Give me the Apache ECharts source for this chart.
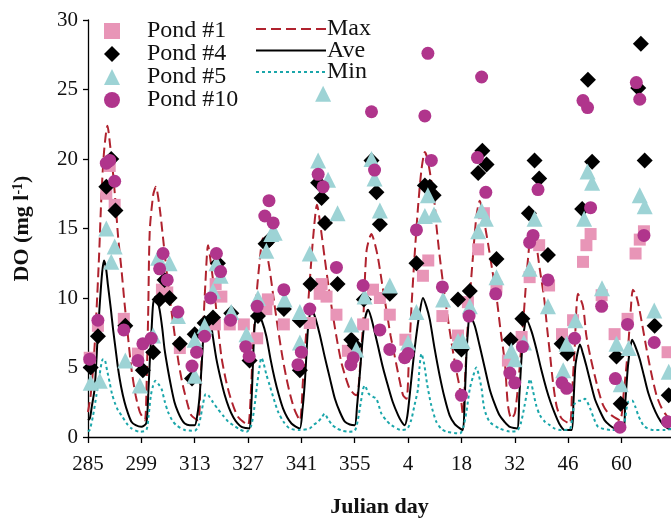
<!DOCTYPE html>
<html>
<head>
<meta charset="utf-8">
<script src="https://cdn.jsdelivr.net/npm/echarts@6/dist/echarts.min.js"></script>
<style>
  html, body { margin: 0; padding: 0; background: #fff; }
  #chart { width: 671px; height: 523px; }
</style>
</head>
<body>
<div id="chart"></div>
<script>
// x values are days counted from the first sampled day (Julian day 285)
const firstDay = 285;
const dayTicks = [285, 299, 313, 327, 341, 355, 4, 18, 32, 46, 60];
const yTicks = [0, 5, 10, 15, 20, 25, 30];

// Measured DO in each pond: [day offset, mg/l]
const pond1 = [[0.45,5.7],[2.6,8.0],[4.8,17.5],[5.7,19.5],[7.0,16.7],[9.4,8.5],[13.1,6.0],[19.4,10.6],[20.8,10.4],[24.1,6.4],[33.3,8.1],[33.5,11.0],[35.0,10.1],[37.2,8.1],[40.9,8.1],[44.4,7.1],[46.8,9.2],[47.2,9.9],[51.4,8.1],[58.2,8.2],[60.8,10.3],[61.3,11.0],[62.6,10.1],[65.2,8.8],[68.2,6.2],[72.2,8.1],[74.8,10.6],[76.6,10.0],[79.2,8.8],[83.3,7.0],[87.9,11.6],[89.3,12.7],[93.0,8.7],[97.1,7.3],[99.7,9.7],[102.4,13.5],[103.9,16.1],[107.2,10.8],[110.2,5.5],[113.8,7.2],[115.9,11.5],[118.4,13.8],[121.0,10.9],[124.4,7.4],[127.3,8.4],[129.9,12.6],[130.8,13.8],[131.9,14.6],[134.8,10.2],[138.2,7.4],[141.6,8.5],[143.7,13.2],[144.8,14.2],[145.9,14.8],[152.1,6.1]];
const pond4 = [[0.7,5.0],[2.6,7.25],[4.8,18.0],[6.1,20.0],[7.2,16.3],[9.8,8.0],[14.4,4.8],[17.1,6.1],[18.8,9.9],[20.1,11.3],[21.4,10.0],[24.1,6.7],[27.3,4.2],[28.0,7.4],[30.6,8.2],[32.8,8.6],[34.1,12.5],[37.6,8.9],[42.4,5.5],[44.6,8.7],[46.6,13.9],[47.7,14.2],[51.4,9.2],[55.6,8.4],[55.6,4.8],[58.4,11.0],[60.4,18.3],[61.3,17.2],[62.2,15.4],[65.5,11.0],[69.1,7.0],[70.0,6.6],[72.4,9.9],[74.4,19.9],[75.7,17.6],[76.6,15.3],[79.2,10.3],[86.2,12.5],[88.4,18.1],[89.7,18.0],[90.7,17.4],[97.1,9.9],[98.0,6.3],[100.2,10.5],[102.4,19.0],[103.5,20.6],[104.6,19.6],[107.2,12.8],[110.9,7.0],[114.0,8.5],[115.7,16.1],[117.2,19.9],[118.4,18.6],[120.7,13.1],[124.3,6.7],[125.8,6.0],[129.7,16.4],[131.2,25.7],[132.3,19.8],[138.7,5.8],[139.8,2.4],[144.4,25.1],[145.1,28.3],[146.1,19.9],[148.7,8.0],[152.4,3.0]];
const pond5 = [[0.7,3.9],[3.1,4.05],[4.8,15.0],[6.1,12.6],[7.0,13.7],[9.8,5.5],[13.6,3.7],[17.1,7.3],[18.4,12.9],[21.4,12.5],[23.6,8.7],[28.0,4.4],[28.0,7.0],[30.6,8.0],[32.8,10.5],[33.7,12.5],[34.8,11.6],[37.6,9.0],[41.6,7.4],[44.6,10.0],[46.8,13.4],[48.1,14.6],[49.0,14.7],[51.6,9.9],[55.6,9.0],[55.6,6.8],[58.2,13.2],[60.4,19.9],[61.7,24.7],[63.0,18.5],[65.5,16.1],[69.1,8.1],[70.4,6.3],[72.6,10.1],[74.4,20.0],[75.2,18.6],[76.6,16.3],[79.2,10.9],[84.0,6.8],[86.2,9.0],[88.4,15.9],[89.2,17.4],[90.8,16.0],[93.2,9.9],[97.1,6.9],[98.3,6.9],[100.2,9.4],[102.4,14.8],[103.3,16.3],[104.4,15.7],[107.2,11.5],[111.1,6.2],[112.0,5.6],[114.4,6.8],[115.9,12.1],[117.2,15.7],[120.7,9.4],[124.7,4.8],[125.6,6.7],[127.9,8.4],[130.2,15.7],[131.1,19.1],[132.3,18.3],[134.9,10.7],[138.7,6.7],[139.8,3.8],[141.9,6.4],[144.8,17.4],[146.1,16.6],[148.6,9.1],[152.4,4.7]];
const pond10 = [[0.45,5.6],[2.6,8.4],[4.8,19.7],[5.7,19.9],[7.0,18.4],[9.4,7.7],[13.1,5.5],[14.4,6.7],[16.6,7.1],[18.8,12.1],[19.7,13.2],[20.8,11.3],[23.6,9.0],[27.3,5.1],[28.5,6.1],[30.6,7.25],[32.2,10.0],[33.7,13.2],[34.8,11.9],[37.4,8.4],[41.4,6.5],[42.3,5.8],[44.4,9.4],[46.4,15.9],[47.5,17.0],[48.6,15.4],[51.4,10.6],[55.1,5.2],[56.0,6.1],[58.2,9.2],[60.4,18.9],[61.7,18.0],[65.2,12.2],[69.0,5.2],[69.6,5.7],[72.2,10.9],[74.4,23.4],[75.2,19.2],[76.6,7.7],[79.2,6.3],[83.1,5.7],[84.0,6.0],[86.2,14.9],[88.4,23.1],[89.2,27.6],[90.1,19.9],[93.0,10.8],[96.7,5.1],[98.0,3.0],[100.0,8.7],[102.2,20.1],[103.3,25.9],[104.4,17.6],[107.0,10.3],[110.7,4.6],[112.0,3.9],[114.0,6.5],[115.9,14.0],[116.8,14.5],[118.1,17.8],[120.7,11.3],[124.4,3.9],[125.6,3.5],[127.7,7.1],[129.9,24.2],[131.1,23.7],[131.9,16.5],[134.8,9.4],[138.4,4.2],[139.6,0.7],[141.6,8.1],[143.9,25.5],[144.8,24.3],[145.9,14.5],[148.6,6.8],[152.1,1.1]];

// Modelled DO envelopes: [day offset, mg/l]
const maxDO = [[0,1.8],[0.7,3.0],[1.5,5.5],[2.2,8.9],[2.9,13.0],[3.5,17.2],[4.2,20.5],[5.1,22.4],[5.8,21.0],[6.6,18.9],[7.3,16.6],[7.9,14.4],[8.8,12.0],[9.6,9.6],[10.5,7.2],[11.4,4.9],[12.5,3.0],[13.6,1.8],[14.9,1.2],[15.4,4.0],[15.8,9.0],[16.2,14.8],[17.1,17.4],[17.8,18.0],[18.8,16.5],[19.7,14.3],[20.6,12.0],[21.7,9.5],[22.8,7.25],[23.8,5.3],[24.9,3.7],[26.0,2.5],[27.1,1.56],[28.9,1.2],[29.5,3.8],[30.2,7.7],[30.8,11.0],[31.5,13.8],[32.4,12.2],[33.3,10.1],[34.1,8.0],[35.0,5.8],[36.1,4.2],[37.2,3.0],[38.3,2.1],[39.4,1.44],[40.7,1.1],[42.0,0.85],[42.7,3.0],[43.3,6.5],[44.1,9.8],[45.0,12.5],[45.9,14.3],[46.8,13.4],[47.7,12.0],[48.8,9.8],[49.9,7.7],[51.0,5.8],[52.1,4.2],[53.2,2.9],[54.3,1.9],[55.6,1.2],[56.4,4.0],[57.3,7.7],[58.2,11.2],[59.1,14.4],[60.1,16.7],[61.1,15.0],[62.1,12.9],[63.2,10.7],[64.3,8.7],[65.4,6.9],[66.5,5.35],[67.6,4.3],[68.7,3.46],[69.8,3.1],[70.6,3.0],[71.4,5.0],[72.2,8.2],[73.1,13.4],[74.4,14.6],[75.2,14.0],[76.1,12.9],[77.2,11.0],[78.3,9.15],[79.4,7.3],[80.5,5.8],[81.6,4.3],[82.7,3.0],[83.6,2.75],[84.2,5.5],[84.9,9.4],[85.7,13.0],[86.6,16.5],[87.5,19.2],[88.4,20.5],[89.0,20.1],[89.7,19.1],[90.3,18.0],[91.0,16.7],[91.4,15.3],[92.3,13.0],[93.2,11.0],[94.3,8.8],[95.4,6.8],[96.5,5.0],[97.6,3.46],[98.4,1.6],[99.0,4.5],[99.7,8.2],[100.4,10.8],[101.0,12.9],[101.9,15.8],[102.8,17.0],[103.9,15.6],[105.0,13.9],[106.1,12.0],[107.2,10.1],[108.3,7.6],[109.4,5.35],[110.2,2.3],[111.1,1.33],[112.0,1.7],[112.8,3.5],[113.5,5.8],[114.2,8.2],[114.8,10.5],[115.5,12.9],[116.4,14.8],[117.2,14.6],[118.6,12.0],[119.7,10.0],[120.5,7.8],[121.3,5.8],[122.0,4.0],[123.0,2.2],[124.3,1.33],[126.4,0.97],[127.0,3.0],[127.7,6.3],[128.6,10.3],[129.9,9.4],[130.8,7.25],[131.9,5.7],[133.0,4.4],[134.1,3.2],[135.2,2.27],[136.3,1.8],[137.4,1.56],[139.6,1.2],[140.6,3.2],[141.7,6.3],[142.4,9.0],[143.0,10.6],[143.7,10.3],[144.4,9.6],[145.5,8.0],[146.6,6.3],[147.9,4.5],[149.2,3.0],[150.5,2.1],[151.8,1.56],[153,1.3]];
const aveDO = [[0,1.2],[0.5,1.35],[1.0,2.2],[1.75,3.5],[2.5,7.0],[3.1,9.6],[3.7,11.8],[4.2,12.7],[4.7,12.2],[5.2,11.0],[6.0,9.2],[6.6,7.7],[7.3,6.2],[7.9,4.9],[8.7,3.6],[9.6,2.5],[10.5,1.7],[11.4,1.1],[12.5,0.85],[14.0,0.73],[15.3,1.0],[15.8,3.0],[16.2,5.35],[16.7,7.8],[17.1,9.6],[17.7,10.1],[18.2,9.8],[18.8,9.15],[19.5,7.8],[20.1,6.3],[21.0,4.8],[21.9,3.5],[22.7,2.5],[23.6,1.8],[24.5,1.3],[25.4,0.97],[26.7,0.85],[28.0,0.85],[28.7,1.6],[29.3,3.0],[29.9,5.5],[30.4,7.7],[31.0,8.4],[31.6,8.7],[32.2,8.2],[33.0,6.8],[33.7,5.6],[34.8,4.2],[35.9,3.0],[37.0,2.1],[38.1,1.44],[39.2,1.0],[40.3,0.73],[41.4,0.65],[42.4,0.62],[42.9,2.5],[43.3,5.35],[43.8,8.2],[44.6,8.9],[45.7,8.3],[46.8,7.25],[47.9,5.6],[49.0,4.17],[50.1,3.0],[51.2,2.04],[52.3,1.4],[53.4,0.97],[54.5,0.75],[55.6,0.62],[56.3,2.0],[56.9,3.93],[57.3,5.8],[57.7,7.7],[58.2,8.8],[58.6,9.15],[59.5,8.7],[60.8,7.4],[62.1,5.8],[63.5,4.2],[64.8,2.75],[66.1,1.8],[67.4,1.1],[68.7,0.9],[70.0,0.85],[70.6,2.2],[71.3,4.4],[72.0,6.8],[72.7,8.5],[73.5,9.15],[74.3,8.6],[75.2,7.6],[76.1,6.54],[77.4,5.0],[78.7,3.7],[80.0,2.5],[81.4,1.56],[82.3,1.1],[83.1,0.85],[83.8,1.5],[84.5,3.2],[85.1,4.8],[85.7,6.3],[86.3,7.6],[87.0,8.9],[87.9,10.0],[88.8,9.4],[89.7,8.44],[91.0,6.3],[92.3,4.4],[93.6,2.8],[94.9,1.56],[96.2,0.95],[97.6,0.62],[98.4,0.5],[98.9,3.0],[99.3,5.8],[99.7,7.6],[100.2,8.8],[101.5,8.0],[102.8,6.54],[104.1,5.0],[105.4,3.46],[106.7,2.4],[108.0,1.56],[109.3,1.1],[110.7,0.73],[112.6,0.62],[113.2,3.0],[113.8,5.8],[114.4,7.6],[115.1,8.44],[116.4,7.6],[117.7,6.3],[119.0,4.8],[120.3,3.46],[121.4,2.5],[122.5,1.7],[123.8,0.9],[125.1,0.5],[126.9,0.5],[127.4,2.5],[127.9,5.1],[128.5,6.1],[129.1,6.66],[129.9,6.0],[130.8,5.1],[131.9,3.9],[133.0,2.75],[134.3,1.9],[135.6,1.2],[136.9,0.85],[138.2,0.62],[140.4,0.5],[141.0,2.5],[141.7,5.1],[142.3,6.4],[142.8,7.0],[143.8,6.4],[144.8,5.6],[145.9,4.4],[147.0,3.2],[148.3,2.2],[149.6,1.44],[150.9,0.9],[152.2,0.62],[153,0.55]];
const minDO = [[0,0.4],[0.45,0.5],[1.3,1.5],[2.2,3.0],[3.0,4.4],[3.9,5.6],[4.3,5.6],[5.0,4.8],[5.7,3.9],[6.3,3.1],[7.0,2.5],[7.9,1.9],[8.8,1.56],[10.1,1.0],[11.4,0.62],[13.6,0.38],[15.3,0.5],[15.9,1.5],[16.5,3.0],[17.1,3.7],[17.7,4.05],[18.5,3.8],[19.3,3.46],[20.1,2.6],[21.0,1.8],[22.1,1.2],[23.2,0.85],[25.4,0.5],[28.0,0.45],[29.0,0.8],[29.6,1.5],[30.2,2.4],[30.9,3.1],[31.6,3.0],[32.8,2.5],[34.1,2.0],[35.4,1.56],[36.8,1.1],[38.1,0.85],[39.8,0.55],[41.6,0.38],[42.8,0.8],[43.6,2.0],[44.3,3.6],[45.0,5.0],[45.5,5.7],[46.0,5.4],[46.8,4.5],[47.7,3.7],[48.8,2.7],[49.9,1.8],[51.3,1.1],[52.9,0.62],[55.6,0.5],[58.2,0.62],[59.3,0.9],[60.4,1.1],[61.3,1.4],[62.1,1.68],[62.9,1.33],[64.0,0.9],[65.3,0.62],[66.8,0.45],[68.4,0.38],[70.0,0.45],[70.8,1.2],[71.6,2.5],[72.2,3.46],[72.6,3.7],[73.7,3.1],[74.7,2.9],[75.7,2.75],[77.0,1.68],[78.3,1.2],[79.6,0.85],[82.3,0.5],[83.8,0.6],[84.8,1.2],[85.7,2.3],[86.6,3.46],[87.0,5.0],[87.5,6.0],[88.2,5.3],[89.0,3.8],[90.1,2.27],[91.4,1.1],[92.7,0.6],[94.1,0.38],[97.6,0.26],[98.5,0.7],[99.3,1.8],[100.2,3.46],[101.1,4.4],[101.9,5.0],[102.6,4.4],[103.3,3.46],[104.0,2.04],[105.4,1.1],[108.0,0.62],[110.7,0.4],[112.6,0.45],[113.6,1.0],[114.6,2.3],[115.4,3.5],[116.0,4.17],[116.8,3.3],[117.6,2.3],[118.6,1.56],[119.9,1.1],[121.2,0.85],[122.5,0.6],[124.3,0.5],[126.4,0.55],[127.1,1.4],[127.7,2.39],[128.7,2.6],[129.6,2.6],[130.4,2.75],[131.8,2.04],[132.8,1.3],[133.9,0.73],[137.4,0.5],[140.3,0.55],[141.0,1.4],[141.7,2.5],[142.8,2.63],[143.6,2.2],[144.4,1.56],[145.2,1.1],[146.1,0.73],[148.5,0.5],[151.5,0.5],[153,0.6]];

const serif = "'Palatino Linotype', 'Book Antiqua', Palatino, 'Liberation Serif', serif";
const txt = { fontFamily: serif, color: '#111' };

const chart = echarts.init(document.getElementById('chart'), null, { renderer: 'canvas' });

function scatter(name, data, symbol, size, color) {
  return {
    name, type: 'scatter', data, symbol, symbolSize: size,
    itemStyle: { color, opacity: 1 }, z: 3, silent: true
  };
}
function envelope(name, data, color, type) {
  return {
    name, type: 'line', data, symbol: 'none', smooth: 0.25,
    lineStyle: { color, width: 2, type }, itemStyle: { color }, z: 2, silent: true
  };
}

chart.setOption({
  animation: false,
  backgroundColor: '#fff',
  grid: { left: 88, right: 0, top: 20, bottom: 81, containLabel: false },
  legend: [
    {
      data: ['Pond #1', 'Pond #4', 'Pond #5', 'Pond #10'],
      orient: 'vertical', left: 99, top: 14,
      itemWidth: 16, itemHeight: 16, itemGap: -1,
      textStyle: Object.assign({ fontSize: 24, padding: [0, 0, 0, 22] }, txt)
    },
    {
      // line samples only: the point marker of each line series is hidden
      data: ['Max', 'Ave', 'Min'],
      orient: 'vertical', left: 250, top: 12,
      itemWidth: 70, itemHeight: 14, itemGap: -2.5,
      itemStyle: { opacity: 0 },
      textStyle: Object.assign({ fontSize: 24, padding: [0, 0, 0, -4] }, txt)
    }
  ],
  xAxis: {
    type: 'value', min: 0, max: 153, interval: 14,
    name: 'Julian day', nameLocation: 'middle', nameGap: 59,
    nameTextStyle: Object.assign({ fontSize: 22, fontWeight: 'bold' }, txt),
    axisLine: { lineStyle: { color: '#000', width: 1.3 } },
    axisTick: { length: 6, lineStyle: { color: '#000', width: 1.3 } },
    axisLabel: Object.assign({
      fontSize: 21, margin: 17, showMaxLabel: false,
      formatter: v => { const i = Math.round(v / 14); return i < dayTicks.length ? String(dayTicks[i]) : ''; }
    }, txt),
    splitLine: { show: false }
  },
  yAxis: {
    type: 'value', min: yTicks[0], max: yTicks[yTicks.length - 1], interval: 5,
    name: '{b|DO (mg l}{s|-1}{b|)}', nameLocation: 'middle', nameGap: 54, nameRotate: 90,
    nameTextStyle: {
      rich: {
        b: Object.assign({ fontSize: 22, fontWeight: 'bold' }, txt),
        s: Object.assign({ fontSize: 14, fontWeight: 'bold', verticalAlign: 'top', padding: [0, 0, 9, 0] }, txt)
      }
    },
    axisLine: { show: true, lineStyle: { color: '#000', width: 1.3 } },
    axisTick: { show: true, length: 5, lineStyle: { color: '#000', width: 1.3 } },
    axisLabel: Object.assign({ fontSize: 21, margin: 10 }, txt),
    splitLine: { show: false }
  },
  series: [
    envelope('Max', maxDO, '#b0222e', [10, 5]),
    envelope('Ave', aveDO, '#000000', 'solid'),
    envelope('Min', minDO, '#1aa6aa', [3, 3]),
    scatter('Pond #1', pond1, 'rect', 12, '#e895b7'),
    scatter('Pond #4', pond4, 'diamond', 16, '#000000'),
    scatter('Pond #5', pond5, 'triangle', 16, '#9dd3d5'),
    scatter('Pond #10', pond10, 'circle', 13, '#b0358c')
  ]
});
</script>
</body>
</html>
